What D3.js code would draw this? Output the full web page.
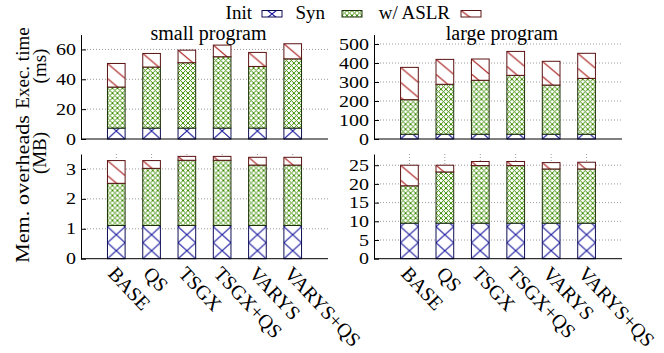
<!DOCTYPE html>
<html>
<head>
<meta charset="utf-8">
<script src="https://cdn.jsdelivr.net/npm/d3@7"></script>
<style>
  body { margin: 0; background: #fff; }
  svg { display: block; }
</style>
</head>
<body>
<svg id="chart" width="664" height="353"></svg>
<script>
// ---- data ----
const categories = ["BASE", "QS", "TSGX", "TSGX+QS", "VARYS", "VARYS+QS"];
const seriesNames = ["Init", "Syn", "w/ ASLR"];

// execution time, small program (ms)
const smallInitMs = [7.3, 7.3, 7.3, 7.3, 7.3, 7.3];
const smallSynMs  = [27.5, 40.9, 43.8, 47.8, 41.3, 46.4];
const smallAslrMs = [15.8, 9.1, 8.4, 7.8, 9.4, 10.1];
// execution time, large program (ms)
const largeInitMs = [25, 25, 25, 25, 25, 25];
const largeSynMs  = [182, 263, 284, 310, 259, 294];
const largeAslrMs = [170, 131, 112, 126, 125, 132];
// memory overheads, small program (MB)
const smallInitMb = [1.11, 1.11, 1.11, 1.11, 1.11, 1.11];
const smallSynMb  = [1.41, 1.91, 2.18, 2.18, 2.02, 2.02];
const smallAslrMb = [0.76, 0.26, 0.13, 0.13, 0.26, 0.26];
// memory overheads, large program (MB)
const largeInitMb = [9.5, 9.5, 9.5, 9.5, 9.5, 9.5];
const largeSynMb  = [10.0, 13.7, 15.4, 15.4, 14.5, 14.5];
const largeAslrMb = [5.5, 1.8, 1.1, 1.1, 1.7, 1.8];

const smallMsTicks = [0, 20, 40, 60];
const largeMsTicks = [0, 100, 200, 300, 400, 500];
const smallMbTicks = [0, 1, 2, 3];
const largeMbTicks = [0, 5, 10, 15, 20, 25];

const panelTitles = ["small program", "large program"];
const yLabelTop = ["Exec. time", "(ms)"];
const yLabelBottom = ["Mem. overheads", "(MB)"];

// ---- styling ----
const FONT = "'Liberation Serif', Tinos, 'Times New Roman', Times, 'DejaVu Serif', serif";
const patColor = { init: "#1a1aa0", syn: "#3c8c00", aslr: "#a81818" };
const edgeColor = { init: "#0d0d55", syn: "#1e3008", aslr: "#5a1212" };

const svg = d3.select("#chart").style("font-family", FONT);
const defs = svg.append("defs");
let patId = 0;

function makePattern(kind, x0, y0, w) {
  const id = "p" + (patId++);
  let tw, th;
  if (kind === "init") { tw = w; th = 16; }
  else if (kind === "syn") { tw = 5; th = 5; }
  else { tw = w; th = 15; }
  const p = defs.append("pattern")
    .attr("id", id)
    .attr("patternUnits", "userSpaceOnUse")
    .attr("x", x0).attr("y", y0)
    .attr("width", tw).attr("height", th);
  p.append("rect").attr("width", tw).attr("height", th).attr("fill", "#fff");
  if (kind === "aslr") {
    p.append("path")
      .attr("d", `M0,0L${tw},${th}M${-tw},${-th}L0,0M${tw},${th}L${2*tw},${2*th}`)
      .attr("stroke", patColor.aslr).attr("stroke-width", 1.1).attr("fill", "none");
  } else {
    p.append("path")
      .attr("d", `M0,0L${tw},${th}M${tw},0L0,${th}`)
      .attr("stroke", patColor[kind])
      .attr("stroke-width", kind === "syn" ? 1.0 : 1.1)
      .attr("fill", "none");
  }
  return "url(#" + id + ")";
}

function styleText(sel, size) {
  sel.attr("font-family", FONT).style("font-family", FONT)
    .style("font-size", size + "px").attr("fill", "#000");
}

// panel geometry
const cols = [{ x0: 81, x1: 328 }, { x0: 374, x1: 622 }];
const rows = [{ top: 34.5, base: 139 }, { top: 154, base: 258.7 }];

const panels = [
  { col: 0, row: 0, max: 70,  ticks: smallMsTicks, data: [smallInitMs, smallSynMs, smallAslrMs] },
  { col: 1, row: 0, max: 550, ticks: largeMsTicks, data: [largeInitMs, largeSynMs, largeAslrMs] },
  { col: 0, row: 1, max: 3.5, ticks: smallMbTicks, data: [smallInitMb, smallSynMb, smallAslrMb] },
  { col: 1, row: 1, max: 28,  ticks: largeMbTicks, data: [largeInitMb, largeSynMb, largeAslrMb] }
];
const kinds = ["init", "syn", "aslr"];

panels.forEach(pn => {
  const c = cols[pn.col], r = rows[pn.row];
  const x = d3.scaleBand().domain(categories).range([c.x0, c.x1])
    .paddingInner(0.5).paddingOuter(0.75);
  const y = d3.scaleLinear().domain([0, pn.max]).range([r.base, r.top]);
  const g = svg.append("g");

  // dotted grid
  g.selectAll(".hg").data(pn.ticks.filter(t => t > 0)).enter().append("line")
    .attr("x1", c.x0).attr("x2", c.x1)
    .attr("y1", d => y(d)).attr("y2", d => y(d))
    .attr("stroke", "#9a9a9a").attr("stroke-width", 1)
    .attr("stroke-dasharray", "1,2");
  if (pn.row === 1) {
    g.selectAll(".vg").data(categories).enter().append("line")
      .attr("x1", d => x(d) + x.bandwidth() / 2).attr("x2", d => x(d) + x.bandwidth() / 2)
      .attr("y1", r.top).attr("y2", r.base)
      .attr("stroke", "#9a9a9a").attr("stroke-width", 1)
      .attr("stroke-dasharray", "1,2");
  }

  // stacked bars
  const stacked = d3.stack().keys([0, 1, 2])(categories.map((cat, i) =>
    ({ cat, 0: pn.data[0][i], 1: pn.data[1][i], 2: pn.data[2][i] })));
  stacked.forEach((layer, si) => {
    const kind = kinds[si];
    g.selectAll(".bar" + si).data(layer).enter().append("rect")
      .attr("x", d => x(d.data.cat))
      .attr("y", d => y(d[1]))
      .attr("width", x.bandwidth())
      .attr("height", d => y(d[0]) - y(d[1]))
      .attr("fill", d => {
        const bx = x(d.data.cat);
        let oy;
        if (kind === "init") oy = y(0) - 16;
        else if (kind === "aslr") oy = y(d[1]);
        else oy = y(d[0]);
        return makePattern(kind, bx, oy, x.bandwidth());
      })
      .attr("stroke", edgeColor[kind]).attr("stroke-width", 1);
  });

  // axes
  const ya = d3.axisLeft(y).tickValues(pn.ticks).tickFormat(d3.format("d"))
    .tickSizeInner(-5).tickSizeOuter(0).tickPadding(4);
  const yg = svg.append("g").attr("transform", `translate(${c.x0},0)`).call(ya);
  yg.attr("font-family", null).attr("font-size", null);
  const yt = yg.selectAll("text").attr("transform", "scale(1.25,1)");
  styleText(yt, 16);
  yg.selectAll("path,line").attr("stroke", "#000");

  const xa = d3.axisBottom(x).tickSize(0).tickSizeOuter(0);
  const xg = svg.append("g").attr("transform", `translate(0,${r.base})`).call(xa);
  xg.attr("font-family", null).attr("font-size", null);
  xg.select(".domain").attr("stroke", "#000").attr("d", `M${c.x0},0H${c.x1}`);
  if (pn.row === 0) {
    xg.selectAll(".tick text").remove();
  } else {
    const t = xg.selectAll(".tick text")
      .attr("x", 0).attr("y", 0).attr("dy", "0.71em")
      .attr("text-anchor", "start")
      .attr("transform", "translate(1,6) rotate(47)");
    styleText(t, 20);
  }

  if (pn.row === 0) {
    styleText(svg.append("text")
      .attr("x", (c.x0 + c.x1) / 2 + 4).attr("y", 40)
      .attr("text-anchor", "middle")
      .text(panelTitles[pn.col]), 20);
  }
});

// y-axis labels (two lines each, rotated)
function yLabel(lines, cy1, cy2, len1) {
  const t1 = svg.append("text").attr("transform", `translate(29,${cy1}) rotate(-90)`)
    .attr("text-anchor", "middle").text(lines[0]);
  if (len1) t1.attr("textLength", len1).attr("lengthAdjust", "spacingAndGlyphs");
  styleText(t1, 19);
  styleText(svg.append("text").attr("transform", `translate(46,${cy2}) rotate(-90)`)
    .attr("text-anchor", "middle").text(lines[1]), 19);
}
yLabel(yLabelTop, 68, 66, null);
yLabel(yLabelBottom, 189, 153, 148);

// legend
const legendItems = [
  { name: seriesNames[0], kind: "init", textEnd: 252, box: 262 },
  { name: seriesNames[1], kind: "syn",  textEnd: 325, box: 342 },
  { name: seriesNames[2], kind: "aslr", textEnd: 450, box: 461 }
];
legendItems.forEach(it => {
  styleText(svg.append("text").attr("x", it.textEnd).attr("y", 19)
    .attr("text-anchor", "end").text(it.name), 19);
  svg.append("rect").attr("x", it.box).attr("y", 10.5).attr("width", 20).attr("height", 6.5)
    .attr("fill", makePattern(it.kind, it.box, it.kind === "init" ? 6 : 10.5, 20))
    .attr("stroke", edgeColor[it.kind]).attr("stroke-width", 1);
});
</script>
</body>
</html>
